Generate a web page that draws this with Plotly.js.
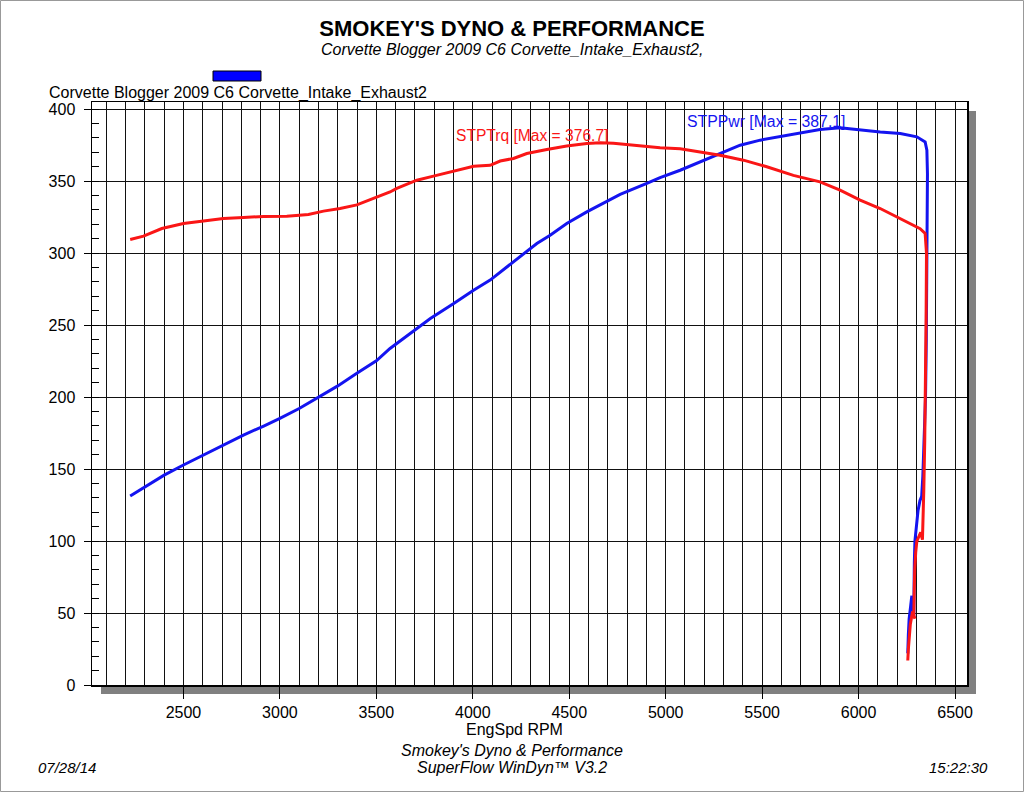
<!DOCTYPE html>
<html>
<head>
<meta charset="utf-8">
<script src="https://cdn.plot.ly/plotly-3.0.1.min.js"></script>
<style>
  html, body { margin: 0; padding: 0; background: #fff; }
  #chart { width: 1024px; height: 792px; }
</style>
</head>
<body>
<div id="chart"></div>
<script>
// dyno run: engine speed vs STP torque / STP power
const trqRpm = [2224, 2293, 2388, 2500, 2604, 2707, 2811, 2916, 3036, 3148, 3226, 3312, 3399, 3485,
  3520, 3571, 3606, 3710, 3796, 3900, 4004, 4090, 4142, 4211, 4280, 4384, 4487, 4591, 4660, 4729,
  4798, 4902, 4971, 5075, 5178, 5282, 5403, 5524, 5662, 5800, 5904, 6008, 6112, 6216, 6319, 6345,
  6352, 6350, 6347, 6343, 6338, 6334, 6331, 6322, 6316, 6302, 6296, 6291, 6288, 6286, 6292, 6280,
  6268, 6262, 6258, 6255];
const trqVal = [309.5, 311.8, 317.1, 320.6, 322.4, 324.0, 324.8, 325.5, 325.7, 326.9, 329.2, 331.0, 333.5, 338.0,
  339.5, 342.5, 345.0, 350.7, 353.5, 357.0, 360.4, 361.0, 364.0, 365.8, 369.2, 372.0, 374.5, 376.2, 376.7, 376.4,
  375.5, 373.8, 373.2, 372.5, 370.3, 368.0, 364.6, 360.0, 354.0, 349.5, 343.8, 336.8, 331.0, 324.0, 317.0, 313.7,
  300, 255, 210, 170, 135, 108, 101, 106, 104, 100, 92, 80, 62, 48, 46, 51,
  42, 34, 25, 17];

const pwrRpm = [2224, 2301, 2400, 2500, 2604, 2707, 2811, 2916, 3000, 3100, 3200, 3298, 3399, 3500,
  3571, 3780, 3901, 4004, 4090, 4177, 4263, 4332, 4401, 4487, 4591, 4694, 4764, 4902, 4971, 5075,
  5178, 5282, 5386, 5490, 5593, 5697, 5800, 5904, 6008, 6112, 6216, 6302, 6345, 6354,
  6357, 6356, 6354, 6351, 6347, 6340, 6333, 6327, 6318, 6308, 6298, 6292, 6289, 6287, 6286, 6280,
  6276, 6270, 6262, 6258, 6255];
const pwrVal = [131.3, 137.7, 145.8, 152.8, 159.7, 166.7, 173.6, 179.9, 185.2, 192.1, 200.2, 207.6, 216.5, 225.2,
  233.8, 254.6, 265.0, 274.3, 281.3, 290.5, 299.8, 306.7, 312.5, 320.6, 328.7, 335.6, 340.8, 348.4, 352.5, 357.6,
  363.4, 369.2, 375.0, 378.5, 380.8, 383.6, 385.9, 387.1, 385.4, 384.2, 383.1, 380.8, 377.3, 371.5,
  355, 320, 280, 240, 200, 165, 145, 131, 128, 121, 108, 100, 85, 65, 47, 55,
  62, 55, 46, 35, 22];

const xTicks = [2500, 3000, 3500, 4000, 4500, 5000, 5500, 6000, 6500];
const yTicks = [0, 50, 100, 150, 200, 250, 300, 350, 400];

const W = 1024, H = 792, L = 92, R = 57, T = 102, B = 107;
const PW = W - L - R, PH = H - T - B;
const px = x => (x - L) / PW;
const py = y => (H - B - y) / PH;

const FONT = 'Arial, "Liberation Sans", sans-serif';
const RED = 'rgb(250,22,22)';
const BLUE = 'rgb(20,20,240)';
const GRID = '#111';

function note(text, x, y, opts) {
  return Object.assign({
    text: text, xref: 'paper', yref: 'paper', x: px(x), y: py(y),
    xanchor: 'center', yanchor: 'middle', showarrow: false,
    font: { family: FONT, size: 16, color: '#000' }
  }, opts || {});
}

const traces = [
  { x: pwrRpm, y: pwrVal, type: 'scatter', mode: 'lines', line: { color: BLUE, width: 3 }, hoverinfo: 'skip' },
  { x: trqRpm, y: trqVal, type: 'scatter', mode: 'lines', line: { color: RED, width: 3 }, hoverinfo: 'skip' }
];

const layout = {
  width: W, height: H,
  margin: { l: L, r: R, t: T, b: B, pad: 0 },
  paper_bgcolor: '#fff',
  plot_bgcolor: 'rgba(0,0,0,0)',
  showlegend: false,
  title: {
    text: "<b>SMOKEY'S DYNO & PERFORMANCE</b>",
    xref: 'container', yref: 'container', x: 0.5, y: 1 - 28 / H,
    xanchor: 'center', yanchor: 'middle',
    font: { family: FONT, size: 22, color: '#000' }
  },
  xaxis: {
    range: [2026, 6562], tickvals: xTicks, ticks: 'outside', ticklen: 12, tickcolor: '#000', tickwidth: 1,
    showgrid: true, gridcolor: GRID, gridwidth: 1, zeroline: false,
    showline: true, mirror: true, linecolor: '#000', linewidth: 1.5,
    minor: { dtick: 100, showgrid: true, gridcolor: GRID, gridwidth: 1, ticks: '' },
    tickfont: { family: FONT, size: 16, color: '#000' }, ticklabelstandoff: 0
  },
  yaxis: {
    range: [0, 405], tickvals: yTicks, ticks: 'outside', ticklen: 7, tickcolor: '#000', tickwidth: 1,
    showgrid: true, gridcolor: GRID, gridwidth: 1, zeroline: false,
    showline: true, mirror: true, linecolor: '#000', linewidth: 1.5,
    minor: { dtick: 10, showgrid: false, ticks: 'inside', ticklen: 7, tickcolor: '#000', tickwidth: 1 },
    tickfont: { family: FONT, size: 16, color: '#000' }, ticklabelstandoff: 5
  },
  shapes: [
    // drop shadow and white plot face
    { type: 'rect', xref: 'paper', yref: 'paper', layer: 'below',
      x0: px(101), x1: px(976), y0: py(694), y1: py(111), fillcolor: '#808080', line: { width: 0 } },
    { type: 'rect', xref: 'paper', yref: 'paper', layer: 'below',
      x0: 0, x1: 1, y0: 0, y1: 1, fillcolor: '#fff', line: { width: 0 } },
    // legend swatch
    { type: 'rect', xref: 'paper', yref: 'paper',
      x0: px(213), x1: px(261), y0: py(81), y1: py(71), fillcolor: 'rgb(0,0,255)', line: { color: '#000', width: 1 } },
    // page frame
    { type: 'rect', xref: 'paper', yref: 'paper',
      x0: px(0.5), x1: px(W - 0.5), y0: py(H - 0.5), y1: py(0.5), line: { color: '#999', width: 1 } }
  ],
  annotations: [
    note('<i>Corvette Blogger 2009 C6 Corvette_Intake_Exhaust2,</i>', 512, 49),
    note('Corvette Blogger 2009 C6 Corvette_Intake_Exhaust2', 47, 93, { xanchor: 'left' }),
    note('STPTrq [Max = 376.7]', 454, 135, { xanchor: 'left', font: { family: FONT, size: 15.6, color: RED } }),
    note('STPPwr [Max = 387.1]', 685, 121, { xanchor: 'left', font: { family: FONT, size: 15.8, color: BLUE } }),
    note('EngSpd RPM', 514, 729),
    note("<i>Smokey's Dyno & Performance</i>", 512, 750),
    note('<i>SuperFlow WinDyn™ V3.2</i>', 512, 767),
    note('<i>07/28/14</i>', 36, 767, { xanchor: 'left', font: { family: FONT, size: 15, color: '#000' } }),
    note('<i>15:22:30</i>', 990, 767, { xanchor: 'right', font: { family: FONT, size: 15, color: '#000' } })
  ]
};

Plotly.newPlot('chart', traces, layout, { staticPlot: true, displayModeBar: false });
</script>
</body>
</html>
